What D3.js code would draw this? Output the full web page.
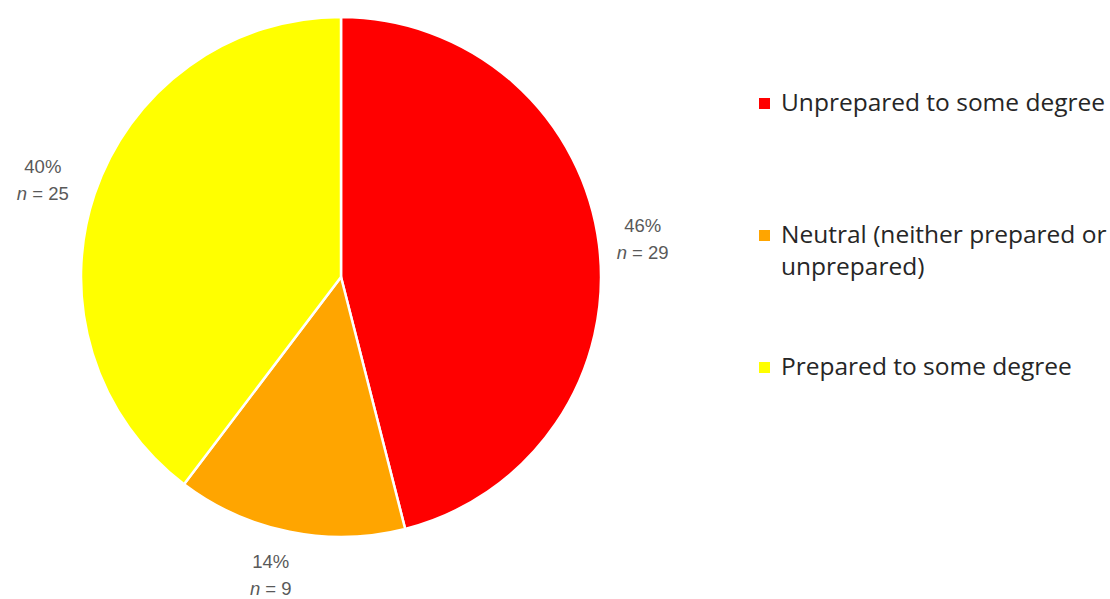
<!DOCTYPE html>
<html>
<head>
<meta charset="utf-8">
<script src="https://cdn.jsdelivr.net/npm/d3@7"></script>
<style>
  body { margin: 0; background: #fff; }
  svg { display: block; }
</style>
</head>
<body>
<svg id="chart" width="1110" height="599"></svg>
<script>
const categories = ['Unprepared to some degree', 'Neutral (neither prepared or unprepared)', 'Prepared to some degree']
const legendLines = [['Unprepared to some degree'], ['Neutral (neither prepared or', 'unprepared)'], ['Prepared to some degree']]
const counts = [29, 9, 25]
const percents = ['46%', '14%', '40%']
const sliceColors = ['#ff0000', '#ffa500', '#ffff00']

const svg = d3.select('#chart')
const cx = 341, cy = 277, radius = 260

const pie = d3.pie().sort(null).value(d => d)
const arcs = pie(counts)
const arc = d3.arc().innerRadius(0).outerRadius(radius)
const labelArc = d3.arc().innerRadius(radius + 44).outerRadius(radius + 44)

const g = svg.append('g').attr('transform', `translate(${cx},${cy})`)

g.selectAll('path')
  .data(arcs)
  .join('path')
  .attr('d', arc)
  .attr('fill', (d, i) => sliceColors[i])
  .attr('stroke', '#fff')
  .attr('stroke-width', 2.5)

// data labels, two lines each
const labelFont = "'Liberation Sans', Arial, sans-serif"
const labels = g.selectAll('g.label')
  .data(arcs)
  .join('g')
  .attr('class', 'label')
  .attr('transform', d => {
    const [x, y] = labelArc.centroid(d)
    // bottom and left labels sit a little further out in the original
    const shift = x < 0 ? -10 : 0
    return `translate(${x + shift},${y})`
  })

labels.append('text')
  .attr('text-anchor', 'middle')
  .attr('y', -7)
  .attr('font-family', labelFont)
  .attr('font-size', 18.5)
  .attr('fill', '#595959')
  .text((d, i) => percents[i])

labels.append('text')
  .attr('text-anchor', 'middle')
  .attr('y', 20)
  .attr('font-family', labelFont)
  .attr('font-size', 18.5)
  .attr('fill', '#595959')
  .call(t => {
    t.append('tspan').attr('font-style', 'italic').text('n')
    t.append('tspan').text(d => ' = ' + d.data)
  })

// legend
const legendBaseline = [111, 243, 375]
const legend = svg.append('g').attr('transform', 'translate(759,0)')
  .selectAll('g')
  .data(categories)
  .join('g')
  .attr('transform', (d, i) => `translate(0,${legendBaseline[i]})`)

legend.append('rect')
  .attr('x', 0)
  .attr('y', -13)
  .attr('width', 11)
  .attr('height', 11)
  .attr('fill', (d, i) => sliceColors[i])

legend.append('text')
  .attr('font-family', "'Open Sans', sans-serif")
  .attr('font-size', 24.5)
  .attr('fill', '#262626')
  .selectAll('tspan')
  .data((d, i) => legendLines[i])
  .join('tspan')
  .attr('x', 22)
  .attr('y', (d, j) => j * 32)
  .text(d => d)
</script>
</body>
</html>
